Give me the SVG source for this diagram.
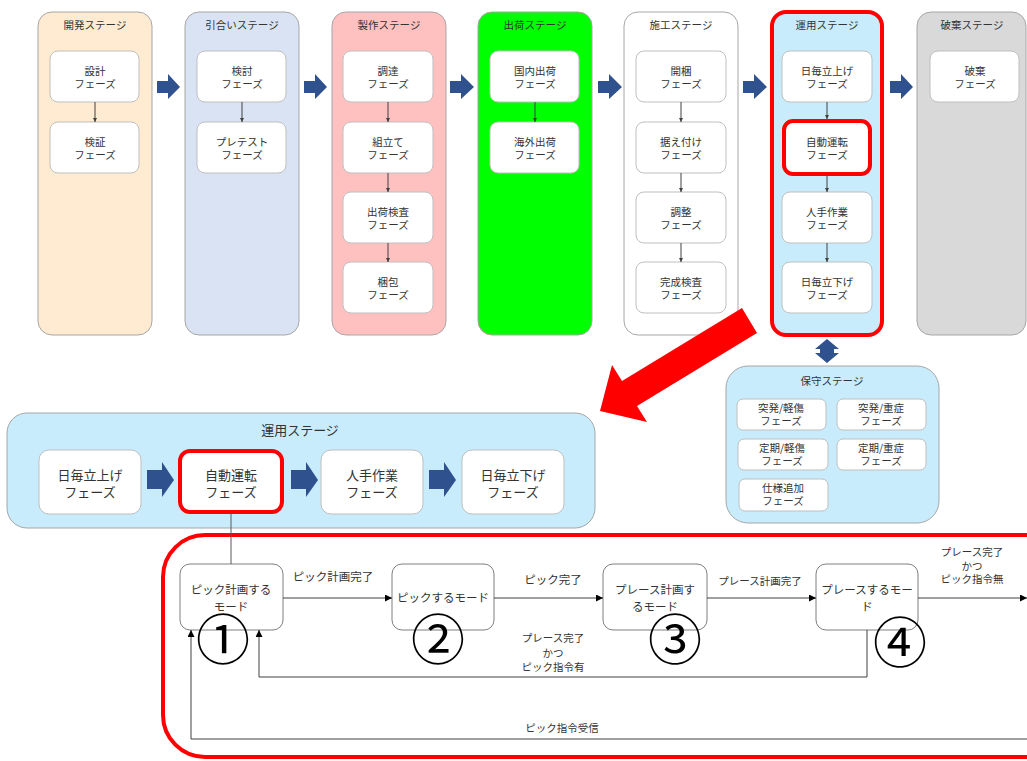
<svg xmlns="http://www.w3.org/2000/svg" width="1027" height="761" viewBox="0 0 1027 761">
<defs>
<style>
text{font-family:"Noto Sans CJK JP","Noto Sans",sans-serif;fill:#333;text-anchor:middle}
.t11{font-size:10.5px}
.t12{font-size:11.5px}
.t13{font-size:13px}
.stage{stroke:#a6a6a6;stroke-width:1}
.box{fill:#fff;stroke:#bfbfbf;stroke-width:1}
.blue{fill:#2f528f}
.con{stroke:#404040;stroke-width:1;fill:none}
.sm{fill:#fff;stroke:#7f7f7f;stroke-width:1}
.num{font-size:54px;fill:#000}
</style>
<marker id="ah" viewBox="0 0 10 10" refX="10" refY="5" markerUnits="userSpaceOnUse" markerWidth="4" markerHeight="4" orient="auto"><path d="M0,0 L10,5 L0,10 z" fill="#404040"/></marker>
<marker id="ah2" viewBox="0 0 10 10" refX="10" refY="5" markerUnits="userSpaceOnUse" markerWidth="7" markerHeight="7" orient="auto"><path d="M0,0 L10,5 L0,10 z" fill="#000"/></marker>
</defs>
<rect width="1027" height="761" fill="#fff"/>

<!-- top stages -->
<g id="stage-kaihatsu">
<rect class="stage" x="38" y="12" width="114" height="323" rx="14" fill="#feebd2"/>
<text class="t11" x="95" y="29">開発ステージ</text>
<rect class="box" x="50" y="51" width="89" height="51" rx="8"/>
<text class="t11" x="95" y="75">設計</text><text class="t11" x="95" y="87.5">フェーズ</text>
<rect class="box" x="50" y="122" width="89" height="51" rx="8"/>
<text class="t11" x="95" y="146">検証</text><text class="t11" x="95" y="158.5">フェーズ</text>
</g>
<g id="stage-hikiai">
<rect class="stage" x="185" y="12" width="114" height="323" rx="14" fill="#dae3f3"/>
<text class="t11" x="242" y="29">引合いステージ</text>
<rect class="box" x="197" y="51" width="89" height="51" rx="8"/>
<text class="t11" x="242" y="75">検討</text><text class="t11" x="242" y="87.5">フェーズ</text>
<rect class="box" x="197" y="122" width="89" height="51" rx="8"/>
<text class="t11" x="242" y="146">プレテスト</text><text class="t11" x="242" y="158.5">フェーズ</text>
</g>
<g id="stage-seisaku">
<rect class="stage" x="332" y="12" width="114" height="323" rx="14" fill="#ffc0c0"/>
<text class="t11" x="389" y="29">製作ステージ</text>
<rect class="box" x="343" y="51" width="90" height="51" rx="8"/>
<text class="t11" x="388" y="75">調達</text><text class="t11" x="388" y="87.5">フェーズ</text>
<rect class="box" x="343" y="122" width="90" height="51" rx="8"/>
<text class="t11" x="388" y="146">組立て</text><text class="t11" x="388" y="158.5">フェーズ</text>
<rect class="box" x="343" y="192" width="90" height="51" rx="8"/>
<text class="t11" x="388" y="216">出荷検査</text><text class="t11" x="388" y="228.5">フェーズ</text>
<rect class="box" x="343" y="262" width="90" height="51" rx="8"/>
<text class="t11" x="388" y="286">梱包</text><text class="t11" x="388" y="298.5">フェーズ</text>
</g>
<g id="stage-shukka">
<rect class="stage" x="478" y="12" width="114" height="323" rx="14" fill="#00ff00"/>
<text class="t11" x="535" y="29">出荷ステージ</text>
<rect class="box" x="490" y="51" width="89" height="51" rx="8"/>
<text class="t11" x="535" y="75">国内出荷</text><text class="t11" x="535" y="87.5">フェーズ</text>
<rect class="box" x="490" y="122" width="89" height="51" rx="8"/>
<text class="t11" x="535" y="146">海外出荷</text><text class="t11" x="535" y="158.5">フェーズ</text>
</g>
<g id="stage-seko">
<rect class="stage" x="624" y="12" width="114" height="323" rx="14" fill="#fff"/>
<text class="t11" x="681" y="29">施工ステージ</text>
<rect class="box" x="636" y="51" width="90" height="51" rx="8"/>
<text class="t11" x="681" y="75">開梱</text><text class="t11" x="681" y="87.5">フェーズ</text>
<rect class="box" x="636" y="122" width="90" height="51" rx="8"/>
<text class="t11" x="681" y="146">据え付け</text><text class="t11" x="681" y="158.5">フェーズ</text>
<rect class="box" x="636" y="192" width="90" height="51" rx="8"/>
<text class="t11" x="681" y="216">調整</text><text class="t11" x="681" y="228.5">フェーズ</text>
<rect class="box" x="636" y="262" width="90" height="51" rx="8"/>
<text class="t11" x="681" y="286">完成検査</text><text class="t11" x="681" y="298.5">フェーズ</text>
</g>
<g id="stage-unyo">
<rect x="772" y="12" width="110" height="323" rx="14" fill="#c8ecfb" stroke="#ff0000" stroke-width="4"/>
<text class="t11" x="827" y="29">運用ステージ</text>
<rect class="box" x="782" y="51" width="90" height="51" rx="8"/>
<text class="t11" x="827" y="75">日毎立上げ</text><text class="t11" x="827" y="87.5">フェーズ</text>
<rect x="784" y="121" width="86" height="53" rx="9" fill="#fff" stroke="#ff0000" stroke-width="4"/>
<text class="t11" x="827" y="146">自動運転</text><text class="t11" x="827" y="158.5">フェーズ</text>
<rect class="box" x="782" y="192" width="90" height="51" rx="8"/>
<text class="t11" x="827" y="216">人手作業</text><text class="t11" x="827" y="228.5">フェーズ</text>
<rect class="box" x="782" y="262" width="90" height="51" rx="8"/>
<text class="t11" x="827" y="286">日毎立下げ</text><text class="t11" x="827" y="298.5">フェーズ</text>
</g>
<g id="stage-haiki">
<rect class="stage" x="917" y="12" width="109" height="323" rx="14" fill="#d9d9d9"/>
<text class="t11" x="972" y="29">破棄ステージ</text>
<rect class="box" x="930" y="51" width="89" height="51" rx="8"/>
<text class="t11" x="975" y="75">破棄</text><text class="t11" x="975" y="87.5">フェーズ</text>
</g>

<!-- maintenance stage -->
<g id="stage-hoshu">
<rect class="stage" x="726" y="366" width="213" height="157" rx="22" fill="#c8ecfb"/>
<text class="t11" x="832" y="385">保守ステージ</text>
<rect class="box" x="737" y="399" width="89" height="31" rx="6"/>
<text class="t11" x="781" y="412">突発/軽傷</text><text class="t11" x="781" y="425">フェーズ</text>
<rect class="box" x="837" y="399" width="89" height="31" rx="6"/>
<text class="t11" x="881" y="412">突発/重症</text><text class="t11" x="881" y="425">フェーズ</text>
<rect class="box" x="738" y="439" width="90" height="31" rx="6"/>
<text class="t11" x="782" y="452">定期/軽傷</text><text class="t11" x="782" y="465">フェーズ</text>
<rect class="box" x="837" y="439" width="89" height="31" rx="6"/>
<text class="t11" x="881" y="452">定期/重症</text><text class="t11" x="881" y="465">フェーズ</text>
<rect class="box" x="739" y="479" width="89" height="32" rx="6"/>
<text class="t11" x="783" y="492">仕様追加</text><text class="t11" x="783" y="505">フェーズ</text>
</g>

<!-- middle operation stage -->
<g id="stage-unyo-detail">
<rect class="stage" x="7" y="413" width="588" height="115" rx="20" fill="#c8ecfb"/>
<text class="t13" x="300" y="435">運用ステージ</text>
<rect class="box" x="39" y="450" width="102" height="64" rx="10"/>
<text class="t13" x="90" y="480">日毎立上げ</text><text class="t13" x="90" y="497">フェーズ</text>
<rect x="180" y="451" width="102" height="61" rx="10" fill="#fff" stroke="#ff0000" stroke-width="4"/>
<text class="t13" x="231" y="480">自動運転</text><text class="t13" x="231" y="497">フェーズ</text>
<rect class="box" x="321" y="450" width="102" height="64" rx="10"/>
<text class="t13" x="372" y="480">人手作業</text><text class="t13" x="372" y="497">フェーズ</text>
<rect class="box" x="462" y="450" width="102" height="64" rx="10"/>
<text class="t13" x="513" y="480">日毎立下げ</text><text class="t13" x="513" y="497">フェーズ</text>
</g>

<!-- state machine frame -->
<g id="mode-frame">
<rect x="163" y="535" width="920" height="222" rx="42" fill="none" stroke="#ff0000" stroke-width="4"/>
</g>
<g id="mode1">
<rect class="sm" x="180" y="564" width="103" height="66" rx="10"/>
<text class="t12" x="231" y="594">ピック計画する</text><text class="t12" x="231" y="611">モード</text>
<text class="num" x="223" y="660">①</text>
</g>
<g id="mode2">
<rect class="sm" x="392" y="564" width="102" height="66" rx="10"/>
<text class="t12" x="443" y="602">ピックするモード</text>
<text class="num" x="438" y="660">②</text>
</g>
<g id="mode3">
<rect class="sm" x="603" y="564" width="104" height="66" rx="10"/>
<text class="t12" x="655" y="594">プレース計画す</text><text class="t12" x="655" y="611">るモード</text>
<text class="num" x="675" y="660">③</text>
</g>
<g id="mode4">
<rect class="sm" x="816" y="564" width="102" height="66" rx="10"/>
<text class="t12" x="867" y="594">プレースするモー</text><text class="t12" x="867" y="611">ド</text>
<text class="num" x="900" y="663">④</text>
</g>

<!-- connectors -->
<g id="connectors">
<line class="con" x1="95" y1="102" x2="95" y2="122" marker-end="url(#ah)"/>
<line class="con" x1="242" y1="102" x2="242" y2="122" marker-end="url(#ah)"/>
<line class="con" x1="388" y1="102" x2="388" y2="122" marker-end="url(#ah)"/>
<line class="con" x1="388" y1="173" x2="388" y2="192" marker-end="url(#ah)"/>
<line class="con" x1="388" y1="243" x2="388" y2="262" marker-end="url(#ah)"/>
<line class="con" x1="535" y1="102" x2="535" y2="122" marker-end="url(#ah)"/>
<line class="con" x1="681" y1="102" x2="681" y2="122" marker-end="url(#ah)"/>
<line class="con" x1="681" y1="173" x2="681" y2="192" marker-end="url(#ah)"/>
<line class="con" x1="681" y1="243" x2="681" y2="262" marker-end="url(#ah)"/>
<line class="con" x1="827" y1="102" x2="827" y2="119" marker-end="url(#ah)"/>
<line class="con" x1="827" y1="176" x2="827" y2="192" marker-end="url(#ah)"/>
<line class="con" x1="827" y1="243" x2="827" y2="262" marker-end="url(#ah)"/>

<!-- blue block arrows top -->
<path class="blue" d="M157,81 H168 V74 L180,87 L168,99 V93 H157 Z"/>
<path class="blue" d="M304,81 H315 V74 L327,87 L315,99 V93 H304 Z"/>
<path class="blue" d="M450,81 H461 V74 L474,87 L461,99 V93 H450 Z"/>
<path class="blue" d="M598,81 H609 V74 L622,87 L609,99 V93 H598 Z"/>
<path class="blue" d="M743,81 H754 V74 L767,87 L754,99 V93 H743 Z"/>
<path class="blue" d="M890,81 H901 V74 L913,87 L901,99 V93 H890 Z"/>
<!-- blue block arrows middle -->
<path class="blue" d="M147,470 H162 V462 L174,480 L162,497 V489 H147 Z"/>
<path class="blue" d="M291,470 H306 V462 L318,480 L306,497 V489 H291 Z"/>
<path class="blue" d="M429,470 H444 V462 L456,480 L444,497 V489 H429 Z"/>
<!-- double arrow -->
<path class="blue" d="M827,339 L839,349 H834 V353 H839 L827,363 L815,353 H820 V349 H815 Z"/>
<!-- big red arrow -->
<path fill="#ff0000" d="M742,308 L757,333 L637,406 L647,422 L600,411 L612,365 L622,381 Z"/>

<!-- link to mode 1 -->
<line x1="231" y1="514" x2="231" y2="564" stroke="#595959" stroke-width="1"/>

<!-- state transitions -->
<line class="con" x1="283" y1="598" x2="392" y2="598" marker-end="url(#ah2)"/>
<text class="t12" x="333" y="581">ピック計画完了</text>
<line class="con" x1="494" y1="598" x2="603" y2="598" marker-end="url(#ah2)"/>
<text class="t12" x="553" y="584">ピック完了</text>
<line class="con" x1="707" y1="598" x2="816" y2="598" marker-end="url(#ah2)"/>
<text class="t11" x="760" y="585">プレース計画完了</text>
<line class="con" x1="918" y1="598" x2="1027" y2="598" marker-end="url(#ah2)"/>
<text class="t11" x="972" y="556">プレース完了</text>
<text class="t11" x="972" y="569.5">かつ</text>
<text class="t11" x="972" y="583">ピック指令無</text>
<path class="con" d="M867,630 V677 H259 V630" marker-end="url(#ah2)"/>
<text class="t11" x="553" y="642">プレース完了</text>
<text class="t11" x="553" y="656.5">かつ</text>
<text class="t11" x="553" y="671">ピック指令有</text>
<path class="con" d="M1027,739 H191 V630" marker-end="url(#ah2)"/>
<text class="t11" x="562" y="732">ピック指令受信</text>
</g>
</svg>
